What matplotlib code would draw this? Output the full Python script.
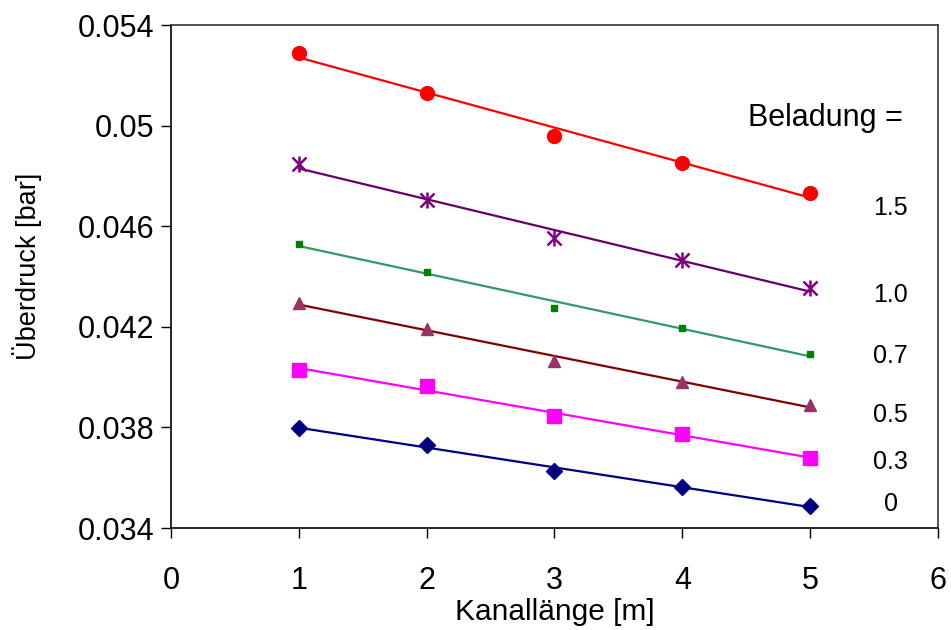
import numpy as np
import matplotlib
matplotlib.use("Agg")
import matplotlib.pyplot as plt

plt.rcParams['font.family'] = ['Liberation Sans', 'DejaVu Sans']

# Kanallänge [m]
laenge = [1, 2, 3, 4, 5]

# Überdruck [bar] je Beladung
p_15 = [0.05289, 0.05130, 0.04959, 0.04851, 0.04732]
p_10 = [0.04847, 0.04704, 0.04553, 0.04466, 0.04354]
p_07 = [0.04529, 0.04418, 0.04275, 0.04195, 0.04092]
p_05 = [0.04295, 0.04191, 0.04064, 0.03981, 0.03889]
p_03 = [0.04028, 0.03965, 0.03845, 0.03774, 0.03678]
p_00 = [0.03798, 0.03730, 0.03627, 0.03563, 0.03487]

beladung_labels = ['1.5', '1.0', '0.7', '0.5', '0.3', '0']
label_y = [0.04672, 0.04326, 0.04084, 0.03849, 0.03662, 0.03495]

# series: values, marker colour, line colour, marker, marker size
series = [
    (p_15, '#FF0000', '#FF0000', 'o', 10),
    (p_10, '#800080', '#660066', 'star', 10),
    (p_07, '#008000', '#339966', 's', 4.5),
    (p_05, '#993366', '#800000', '^', 8),
    (p_03, '#FF00FF', '#FF00FF', 's', 10),
    (p_00, '#000080', '#000080', 'D', 8),
]

fig = plt.figure(figsize=(9.51, 6.30), dpi=100)
ax = fig.add_axes([0.1798, 0.1619, 0.8065, 0.7984])

x = np.array(laenge)
for vals, mcol, lcol, marker, ms in series:
    # linear trendline like in Excel
    k, d = np.polyfit(x, vals, 1)
    ax.plot(x, k * x + d, color=lcol, lw=1.6, zorder=2)
    if marker == 'star':
        ax.plot(x, vals, ls='none', marker='x', ms=ms, mew=1.8, color=mcol, zorder=3)
        ax.plot(x, vals, ls='none', marker='|', ms=ms * 1.1, mew=1.8, color=mcol, zorder=3)
    else:
        ax.plot(x, vals, ls='none', marker=marker, ms=ms, color=mcol, mec=mcol, zorder=3)

ax.text(5.12, 0.0503, 'Beladung =', fontsize=22, ha='center', va='center')
for lab, yy in zip(beladung_labels, label_y):
    ax.text(5.63, yy, lab, fontsize=18, ha='center', va='center')

ax.set_xlim(0, 6)
ax.set_ylim(0.034, 0.054)
ax.set_xticks(range(0, 7))
ax.set_yticks([0.034, 0.038, 0.042, 0.046, 0.05, 0.054])
ax.set_yticklabels(['0.034', '0.038', '0.042', '0.046', '0.05', '0.054'])
ax.tick_params(direction='out', length=7, width=1, labelsize=22, pad=5)
ax.tick_params(axis='x', pad=20)

for s in ax.spines.values():
    s.set_color('#333333')
    s.set_linewidth(1.2)
ax.spines['left'].set_color('black')
ax.spines['bottom'].set_color('black')

ax.set_xlabel('Kanallänge [m]', fontsize=21.5, labelpad=2)
ax.set_ylabel('Überdruck [bar]', fontsize=19.5)
ax.yaxis.set_label_coords(-0.168, 0.52)

fig.savefig('out.png', dpi=100)
